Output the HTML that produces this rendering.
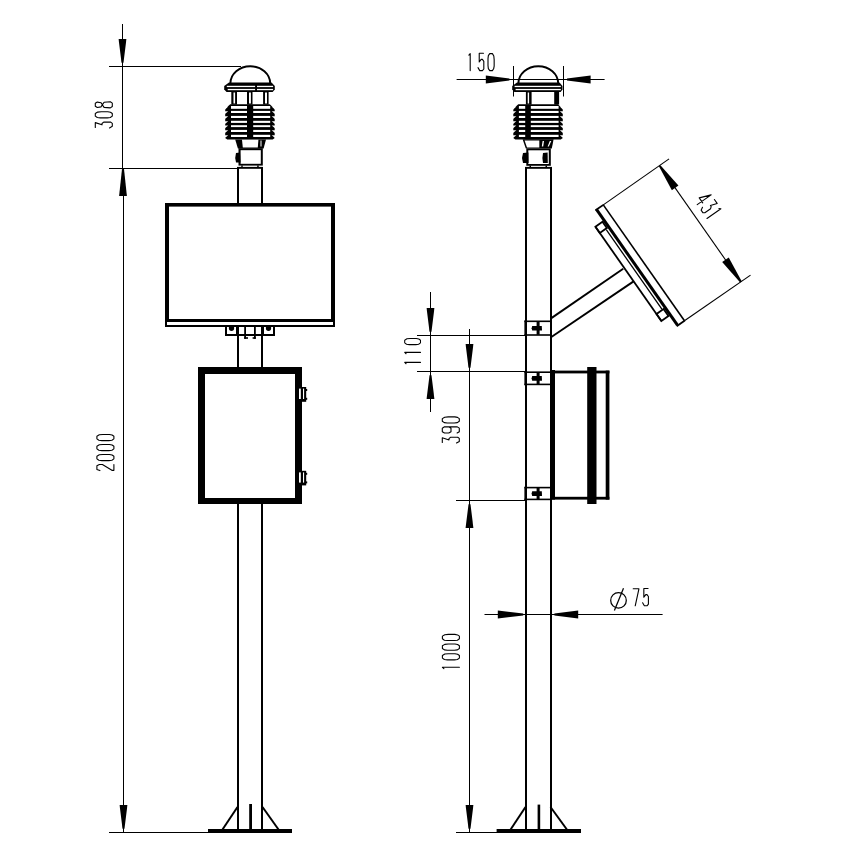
<!DOCTYPE html>
<html><head><meta charset="utf-8"><style>
html,body{margin:0;padding:0;background:#fff;}
body{width:854px;height:864px;overflow:hidden;font-family:"Liberation Sans",sans-serif;}
svg{display:block;}
</style></head><body>
<svg width="854" height="864" viewBox="0 0 854 864">
<rect x="0" y="0" width="854" height="864" fill="#fff"/>
<rect x="122.00" y="24.00" width="1.00" height="145.00" fill="#000"/>
<rect x="123.00" y="168.00" width="1.00" height="664.00" fill="#000"/>
<polygon points="121.50,62.70 123.50,62.70 126.40,39.10 118.60,39.10" fill="#000" />
<polygon points="124.00,169.00 122.00,169.00 119.10,195.90 126.90,195.90" fill="#000" />
<polygon points="122.50,828.70 124.50,828.70 127.40,805.10 119.60,805.10" fill="#000" />
<rect x="109.00" y="66.00" width="132.00" height="1.00" fill="#000"/>
<rect x="109.00" y="168.00" width="129.00" height="1.00" fill="#000"/>
<rect x="109.00" y="832.00" width="100.00" height="1.00" fill="#000"/>
<g transform="translate(112.3,127.9) rotate(-90)" stroke="#000" stroke-width="1.1" fill="none" stroke-linejoin="round" stroke-linecap="round"><path transform="translate(0.00,0)" d=" M0.44,-17.00 H5.28 L3.08,-10.30 H4.40 L5.81,-8.60 V-1.60 L4.58,0.00 H1.58 L0.00,-2.80"/><path transform="translate(10.00,0)" d=" M1.76,-17.00 H4.40 L5.81,-14.60 L6.16,-11.00 V-4.50 L5.63,-1.80 L4.40,0.00 H1.76 L0.35,-2.00 L0.00,-5.00 V-12.00 L0.35,-15.00 Z"/><path transform="translate(20.00,0)" d=" M3.08,-10.00 L1.06,-11.20 L0.35,-15.00 L1.58,-17.00 H4.58 L5.81,-15.00 L5.10,-11.20 L3.08,-10.00 L0.53,-8.20 L0.00,-2.00 L1.41,0.00 H4.75 L6.16,-2.00 L5.63,-8.20 Z"/></g>
<g transform="translate(113.9,470.6) rotate(-90)" stroke="#000" stroke-width="1.1" fill="none" stroke-linejoin="round" stroke-linecap="round"><path transform="translate(0.00,0)" d=" M0.00,-14.00 L1.06,-17.00 H4.84 L6.16,-14.50 V-11.50 L0.26,-2.00 V0.00 H6.16"/><path transform="translate(10.00,0)" d=" M1.76,-17.00 H4.40 L5.81,-14.60 L6.16,-11.00 V-4.50 L5.63,-1.80 L4.40,0.00 H1.76 L0.35,-2.00 L0.00,-5.00 V-12.00 L0.35,-15.00 Z"/><path transform="translate(20.00,0)" d=" M1.76,-17.00 H4.40 L5.81,-14.60 L6.16,-11.00 V-4.50 L5.63,-1.80 L4.40,0.00 H1.76 L0.35,-2.00 L0.00,-5.00 V-12.00 L0.35,-15.00 Z"/><path transform="translate(30.00,0)" d=" M1.76,-17.00 H4.40 L5.81,-14.60 L6.16,-11.00 V-4.50 L5.63,-1.80 L4.40,0.00 H1.76 L0.35,-2.00 L0.00,-5.00 V-12.00 L0.35,-15.00 Z"/></g>
<path d="M230.4,83.5 A19.9,17.25 0 0 1 270.2,83.5" stroke="#000" stroke-width="1.9" fill="none" stroke-linejoin="round" stroke-linecap="round" />
<polygon points="229.00,82.60 271.50,82.60 274.80,86.00 274.80,89.60 272.60,92.00 226.60,92.00 224.20,89.60 224.20,86.00" fill="#000" />
<rect x="226.80" y="85.80" width="28.30" height="1.30" fill="#fff"/>
<rect x="257.00" y="85.80" width="16.10" height="1.30" fill="#fff"/>
<rect x="227.70" y="88.90" width="27.40" height="1.30" fill="#fff"/>
<rect x="257.00" y="88.90" width="16.10" height="1.30" fill="#fff"/>
<rect x="231.30" y="91.60" width="5.70" height="13.00" fill="#000"/>
<rect x="233.50" y="92.50" width="1.60" height="11.00" fill="#fff"/>
<rect x="247.00" y="91.60" width="5.50" height="13.00" fill="#000"/>
<rect x="249.00" y="92.50" width="1.90" height="11.00" fill="#fff"/>
<rect x="263.10" y="91.60" width="5.50" height="13.00" fill="#000"/>
<rect x="265.00" y="92.50" width="2.00" height="11.00" fill="#fff"/>
<polygon points="230.20,104.20 269.70,104.20 274.70,108.70 274.70,137.90 272.70,139.40 227.20,139.40 225.20,137.90 225.20,108.70" fill="#000" />
<rect x="231.00" y="106.00" width="16.00" height="2.80" fill="#fff"/>
<rect x="253.20" y="106.00" width="17.00" height="2.80" fill="#fff"/>
<polygon points="228.20,106.40 224.60,106.40 224.60,110.10" fill="#fff" />
<polygon points="271.70,106.40 275.30,106.40 275.30,110.10" fill="#fff" />
<rect x="231.00" y="110.90" width="16.00" height="2.10" fill="#fff"/>
<rect x="253.20" y="110.90" width="17.00" height="2.10" fill="#fff"/>
<polygon points="228.20,111.30 224.60,111.30 224.60,114.30" fill="#fff" />
<polygon points="271.70,111.30 275.30,111.30 275.30,114.30" fill="#fff" />
<rect x="231.00" y="115.90" width="16.00" height="2.10" fill="#fff"/>
<rect x="253.20" y="115.90" width="17.00" height="2.10" fill="#fff"/>
<polygon points="228.20,116.30 224.60,116.30 224.60,119.30" fill="#fff" />
<polygon points="271.70,116.30 275.30,116.30 275.30,119.30" fill="#fff" />
<rect x="231.00" y="120.80" width="16.00" height="2.10" fill="#fff"/>
<rect x="253.20" y="120.80" width="17.00" height="2.10" fill="#fff"/>
<polygon points="228.20,121.20 224.60,121.20 224.60,124.20" fill="#fff" />
<polygon points="271.70,121.20 275.30,121.20 275.30,124.20" fill="#fff" />
<rect x="231.00" y="125.20" width="16.00" height="1.90" fill="#fff"/>
<rect x="253.20" y="125.20" width="17.00" height="1.90" fill="#fff"/>
<polygon points="228.20,125.60 224.60,125.60 224.60,128.40" fill="#fff" />
<polygon points="271.70,125.60 275.30,125.60 275.30,128.40" fill="#fff" />
<rect x="231.00" y="129.90" width="16.00" height="2.10" fill="#fff"/>
<rect x="253.20" y="129.90" width="17.00" height="2.10" fill="#fff"/>
<polygon points="228.20,130.30 224.60,130.30 224.60,133.30" fill="#fff" />
<polygon points="271.70,130.30 275.30,130.30 275.30,133.30" fill="#fff" />
<rect x="231.00" y="134.80" width="16.00" height="2.20" fill="#fff"/>
<rect x="253.20" y="134.80" width="17.00" height="2.20" fill="#fff"/>
<polygon points="228.20,135.20 224.60,135.20 224.60,138.30" fill="#fff" />
<polygon points="271.70,135.20 275.30,135.20 275.30,138.30" fill="#fff" />
<polygon points="235.20,139.40 266.00,139.40 263.60,148.60 237.90,148.60" fill="#000" />
<polygon points="242.00,139.80 258.40,139.80 257.80,147.40 242.80,147.40" fill="#fff" />
<rect x="260.50" y="140.50" width="1.00" height="6.00" fill="#fff"/>
<rect x="238.50" y="148.20" width="24.30" height="17.40" fill="#000"/>
<rect x="240.60" y="150.20" width="20.20" height="13.60" fill="#fff"/>
<polygon points="236.00,153.00 240.00,152.50 240.50,162.50 236.00,162.50 235.20,158.00" fill="#000" />
<rect x="241.30" y="165.40" width="1.40" height="1.60" fill="#000"/>
<rect x="257.20" y="165.40" width="1.50" height="1.60" fill="#000"/>
<rect x="237.00" y="166.90" width="26.00" height="1.90" fill="#000"/>
<rect x="237.00" y="168.00" width="2.00" height="35.00" fill="#000"/>
<rect x="261.00" y="168.00" width="2.00" height="35.00" fill="#000"/>
<rect x="237.00" y="326.00" width="2.00" height="41.00" fill="#000"/>
<rect x="261.00" y="326.00" width="2.00" height="41.00" fill="#000"/>
<rect x="237.00" y="504.00" width="2.00" height="325.00" fill="#000"/>
<rect x="261.00" y="504.00" width="2.00" height="325.00" fill="#000"/>
<rect x="165.00" y="203.00" width="170.00" height="3.60" fill="#000"/>
<rect x="165.00" y="203.00" width="4.00" height="119.00" fill="#000"/>
<rect x="331.00" y="203.00" width="4.00" height="119.00" fill="#000"/>
<rect x="165.00" y="319.00" width="170.00" height="3.00" fill="#000"/>
<rect x="165.00" y="325.00" width="170.00" height="2.00" fill="#000"/>
<rect x="165.00" y="322.00" width="2.00" height="5.00" fill="#000"/>
<rect x="333.00" y="322.00" width="2.00" height="5.00" fill="#000"/>
<rect x="225.00" y="327.00" width="2.00" height="9.00" fill="#000"/>
<rect x="273.00" y="327.00" width="2.00" height="9.00" fill="#000"/>
<rect x="225.00" y="334.00" width="50.00" height="2.00" fill="#000"/>
<rect x="236.00" y="327.00" width="2.00" height="9.00" fill="#000"/>
<rect x="262.00" y="327.00" width="2.00" height="9.00" fill="#000"/>
<rect x="244.20" y="327.00" width="1.80" height="11.80" fill="#000"/>
<rect x="244.20" y="337.20" width="3.80" height="1.60" fill="#000"/>
<rect x="254.00" y="327.00" width="1.80" height="11.80" fill="#000"/>
<rect x="252.60" y="337.20" width="3.20" height="1.60" fill="#000"/>
<path d="M228.9,327 H234.1 V328.6 Q234.1,331 231.5,331 Q228.9,331 228.9,328.6 Z" fill="#000"/>
<path d="M265.9,327 H271.1 V328.6 Q271.1,331 268.5,331 Q265.9,331 265.9,328.6 Z" fill="#000"/>
<rect x="198.00" y="367.00" width="104.00" height="137.00" fill="#000"/>
<rect x="205.00" y="374.00" width="90.00" height="124.00" fill="#fff"/>
<rect x="301.00" y="387.00" width="5.20" height="14.80" fill="#000"/>
<rect x="306.00" y="389.00" width="1.20" height="2.00" fill="#000"/>
<rect x="306.00" y="397.80" width="1.20" height="2.00" fill="#000"/>
<rect x="299.00" y="388.60" width="1.80" height="10.40" fill="#fff"/>
<rect x="303.00" y="388.60" width="1.10" height="10.40" fill="#fff"/>
<rect x="301.00" y="470.80" width="5.20" height="14.60" fill="#000"/>
<rect x="306.00" y="472.80" width="1.20" height="2.00" fill="#000"/>
<rect x="306.00" y="481.40" width="1.20" height="2.00" fill="#000"/>
<rect x="299.00" y="472.40" width="1.80" height="10.20" fill="#fff"/>
<rect x="303.00" y="472.40" width="1.10" height="10.20" fill="#fff"/>
<rect x="208.00" y="829.00" width="84.00" height="4.00" fill="#000"/>
<rect x="249.20" y="804.00" width="2.80" height="25.00" fill="#000"/>
<line x1="237.50" y1="807.00" x2="222.50" y2="829.50" stroke="#000" stroke-width="2.0" stroke-linecap="butt"/>
<line x1="262.50" y1="807.00" x2="278.50" y2="829.50" stroke="#000" stroke-width="2.0" stroke-linecap="butt"/>
<rect x="456.60" y="79.00" width="148.00" height="1.00" fill="#000"/>
<rect x="513.00" y="66.00" width="1.00" height="30.50" fill="#000"/>
<rect x="563.00" y="66.00" width="1.00" height="30.50" fill="#000"/>
<polygon points="509.40,80.50 509.40,78.50 485.80,75.60 485.80,83.40" fill="#000" />
<polygon points="567.00,78.50 567.00,80.50 590.60,83.40 590.60,75.60" fill="#000" />
<g transform="translate(468,70.6)" stroke="#000" stroke-width="1.1" fill="none" stroke-linejoin="round" stroke-linecap="round"><path transform="translate(0.00,0)" d=" M0.88,-15.50 L2.20,-17.00 V0.00"/><path transform="translate(10.00,0)" d=" M5.46,-17.30 H1.23 V-8.60 L3.17,-11.20 H4.40 L5.81,-9.30 V-1.60 L4.40,0.00 H1.76 L0.00,-3.00"/><path transform="translate(20.00,0)" d=" M1.76,-17.00 H4.40 L5.81,-14.60 L6.16,-11.00 V-4.50 L5.63,-1.80 L4.40,0.00 H1.76 L0.35,-2.00 L0.00,-5.00 V-12.00 L0.35,-15.00 Z"/></g>
<path d="M518.4,83.5 A19.9,17.25 0 0 1 558.2,83.5" stroke="#000" stroke-width="1.9" fill="none" stroke-linejoin="round" stroke-linecap="round" />
<polygon points="517.00,82.60 559.50,82.60 562.50,86.00 562.50,89.60 560.60,92.00 514.40,92.00 512.20,89.60 512.20,86.00" fill="#000" />
<rect x="514.60" y="85.80" width="46.20" height="1.30" fill="#fff"/>
<rect x="515.60" y="88.90" width="45.20" height="1.30" fill="#fff"/>
<rect x="525.90" y="91.60" width="5.70" height="13.00" fill="#000"/>
<rect x="527.70" y="92.50" width="1.40" height="11.00" fill="#fff"/>
<rect x="554.20" y="91.60" width="4.90" height="13.00" fill="#000"/>
<polygon points="518.30,104.20 557.80,104.20 562.80,108.70 562.80,137.90 560.80,139.40 515.30,139.40 513.30,137.90 513.30,108.70" fill="#000" />
<rect x="518.90" y="106.00" width="6.30" height="2.80" fill="#fff"/>
<rect x="530.80" y="106.00" width="27.80" height="2.80" fill="#fff"/>
<polygon points="516.30,106.40 512.70,106.40 512.70,110.10" fill="#fff" />
<polygon points="559.80,106.40 563.40,106.40 563.40,110.10" fill="#fff" />
<rect x="518.90" y="110.90" width="6.30" height="2.10" fill="#fff"/>
<rect x="530.80" y="110.90" width="27.80" height="2.10" fill="#fff"/>
<polygon points="516.30,111.30 512.70,111.30 512.70,114.30" fill="#fff" />
<polygon points="559.80,111.30 563.40,111.30 563.40,114.30" fill="#fff" />
<rect x="518.90" y="115.90" width="6.30" height="2.10" fill="#fff"/>
<rect x="530.80" y="115.90" width="27.80" height="2.10" fill="#fff"/>
<polygon points="516.30,116.30 512.70,116.30 512.70,119.30" fill="#fff" />
<polygon points="559.80,116.30 563.40,116.30 563.40,119.30" fill="#fff" />
<rect x="518.90" y="120.80" width="6.30" height="2.10" fill="#fff"/>
<rect x="530.80" y="120.80" width="27.80" height="2.10" fill="#fff"/>
<polygon points="516.30,121.20 512.70,121.20 512.70,124.20" fill="#fff" />
<polygon points="559.80,121.20 563.40,121.20 563.40,124.20" fill="#fff" />
<rect x="518.90" y="125.20" width="6.30" height="1.90" fill="#fff"/>
<rect x="530.80" y="125.20" width="27.80" height="1.90" fill="#fff"/>
<polygon points="516.30,125.60 512.70,125.60 512.70,128.40" fill="#fff" />
<polygon points="559.80,125.60 563.40,125.60 563.40,128.40" fill="#fff" />
<rect x="518.90" y="129.90" width="6.30" height="2.10" fill="#fff"/>
<rect x="530.80" y="129.90" width="27.80" height="2.10" fill="#fff"/>
<polygon points="516.30,130.30 512.70,130.30 512.70,133.30" fill="#fff" />
<polygon points="559.80,130.30 563.40,130.30 563.40,133.30" fill="#fff" />
<rect x="518.90" y="134.80" width="6.30" height="2.20" fill="#fff"/>
<rect x="530.80" y="134.80" width="27.80" height="2.20" fill="#fff"/>
<polygon points="516.30,135.20 512.70,135.20 512.70,138.30" fill="#fff" />
<polygon points="559.80,135.20 563.40,135.20 563.40,138.30" fill="#fff" />
<polygon points="522.60,139.20 553.60,139.20 551.80,148.60 525.80,148.60" fill="#000" />
<polygon points="524.60,140.60 539.30,140.60 539.30,147.40 527.00,147.40" fill="#fff" />
<polygon points="542.60,141.00 544.00,141.00 543.20,146.50 541.80,146.50" fill="#fff" />
<polygon points="549.80,141.00 551.30,141.00 548.80,146.50 547.60,146.50" fill="#fff" />
<rect x="526.30" y="148.40" width="24.50" height="17.40" fill="#000"/>
<rect x="528.30" y="150.30" width="20.50" height="13.70" fill="#fff"/>
<polygon points="523.00,153.00 528.40,152.60 528.60,163.00 523.00,163.00 522.00,158.00" fill="#000" />
<polygon points="543.00,153.00 547.60,152.60 547.80,163.00 543.00,163.00 542.40,158.00" fill="#000" />
<rect x="529.50" y="165.60" width="1.50" height="1.60" fill="#000"/>
<rect x="545.50" y="165.60" width="1.50" height="1.60" fill="#000"/>
<rect x="525.00" y="166.90" width="27.00" height="1.90" fill="#000"/>
<rect x="525.00" y="168.00" width="2.00" height="661.00" fill="#000"/>
<rect x="550.00" y="168.00" width="2.00" height="661.00" fill="#000"/>
<rect x="524.40" y="320.50" width="26.60" height="1.60" fill="#000"/>
<rect x="524.40" y="334.20" width="26.60" height="1.60" fill="#000"/>
<rect x="524.40" y="320.50" width="1.60" height="15.30" fill="#000"/>
<rect x="536.60" y="321.50" width="3.00" height="13.30" fill="#000"/>
<polygon points="532.20,325.95 541.80,325.95 542.00,330.55 532.20,330.55 531.60,328.15" fill="#000" />
<rect x="524.40" y="371.40" width="26.60" height="1.60" fill="#000"/>
<rect x="524.40" y="383.60" width="26.60" height="1.60" fill="#000"/>
<rect x="524.40" y="371.40" width="1.60" height="13.80" fill="#000"/>
<rect x="536.60" y="372.40" width="3.00" height="11.80" fill="#000"/>
<polygon points="532.20,376.10 541.80,376.10 542.00,380.70 532.20,380.70 531.60,378.30" fill="#000" />
<rect x="524.40" y="486.80" width="26.60" height="1.60" fill="#000"/>
<rect x="524.40" y="498.60" width="26.60" height="1.60" fill="#000"/>
<rect x="524.40" y="486.80" width="1.60" height="13.40" fill="#000"/>
<rect x="536.60" y="487.80" width="3.00" height="11.40" fill="#000"/>
<polygon points="532.20,491.30 541.80,491.30 542.00,495.90 532.20,495.90 531.60,493.50" fill="#000" />
<rect x="551.00" y="370.00" width="4.00" height="129.60" fill="#000"/>
<rect x="551.00" y="370.60" width="58.40" height="2.80" fill="#000"/>
<rect x="551.00" y="496.80" width="58.40" height="2.80" fill="#000"/>
<rect x="605.70" y="370.60" width="3.70" height="129.00" fill="#000"/>
<rect x="587.20" y="367.00" width="9.30" height="137.00" fill="#000"/>
<rect x="430.00" y="292.00" width="1.00" height="120.00" fill="#000"/>
<polygon points="429.50,331.70 431.50,331.70 434.40,308.10 426.60,308.10" fill="#000" />
<polygon points="431.50,375.30 429.50,375.30 426.60,398.90 434.40,398.90" fill="#000" />
<rect x="469.00" y="329.00" width="1.00" height="503.00" fill="#000"/>
<polygon points="468.50,367.70 470.50,367.70 473.40,344.10 465.60,344.10" fill="#000" />
<polygon points="470.50,504.30 468.50,504.30 465.60,527.90 473.40,527.90" fill="#000" />
<polygon points="468.50,828.70 470.50,828.70 473.40,805.10 465.60,805.10" fill="#000" />
<rect x="417.00" y="335.00" width="108.00" height="1.00" fill="#000"/>
<rect x="417.00" y="371.00" width="108.00" height="1.00" fill="#000"/>
<rect x="456.00" y="500.00" width="69.00" height="1.00" fill="#000"/>
<rect x="456.00" y="832.00" width="41.00" height="1.00" fill="#000"/>
<g transform="translate(420.5,364.6) rotate(-90) scale(1,0.93)" stroke="#000" stroke-width="1.1" fill="none" stroke-linejoin="round" stroke-linecap="round"><path transform="translate(0.00,0)" d=" M0.88,-15.50 L2.20,-17.00 V0.00"/><path transform="translate(10.00,0)" d=" M0.88,-15.50 L2.20,-17.00 V0.00"/><path transform="translate(20.00,0)" d=" M1.76,-17.00 H4.40 L5.81,-14.60 L6.16,-11.00 V-4.50 L5.63,-1.80 L4.40,0.00 H1.76 L0.35,-2.00 L0.00,-5.00 V-12.00 L0.35,-15.00 Z"/></g>
<g transform="translate(459.3,443) rotate(-90)" stroke="#000" stroke-width="1.1" fill="none" stroke-linejoin="round" stroke-linecap="round"><path transform="translate(0.00,0)" d=" M0.44,-17.00 H5.28 L3.08,-10.30 H4.40 L5.81,-8.60 V-1.60 L4.58,0.00 H1.58 L0.00,-2.80"/><path transform="translate(10.00,0)" d=" M6.16,-10.50 L4.84,-8.30 H1.32 L0.00,-10.50 V-14.80 L1.32,-17.00 H4.84 L6.16,-14.80 V-2.00 L4.84,0.00 H1.32 L0.00,-2.20"/><path transform="translate(20.00,0)" d=" M1.76,-17.00 H4.40 L5.81,-14.60 L6.16,-11.00 V-4.50 L5.63,-1.80 L4.40,0.00 H1.76 L0.35,-2.00 L0.00,-5.00 V-12.00 L0.35,-15.00 Z"/></g>
<g transform="translate(459.4,669.5) rotate(-90)" stroke="#000" stroke-width="1.1" fill="none" stroke-linejoin="round" stroke-linecap="round"><path transform="translate(0.00,0)" d=" M0.88,-15.50 L2.20,-17.00 V0.00"/><path transform="translate(9.65,0)" d=" M1.76,-17.00 H4.40 L5.81,-14.60 L6.16,-11.00 V-4.50 L5.63,-1.80 L4.40,0.00 H1.76 L0.35,-2.00 L0.00,-5.00 V-12.00 L0.35,-15.00 Z"/><path transform="translate(19.30,0)" d=" M1.76,-17.00 H4.40 L5.81,-14.60 L6.16,-11.00 V-4.50 L5.63,-1.80 L4.40,0.00 H1.76 L0.35,-2.00 L0.00,-5.00 V-12.00 L0.35,-15.00 Z"/><path transform="translate(28.95,0)" d=" M1.76,-17.00 H4.40 L5.81,-14.60 L6.16,-11.00 V-4.50 L5.63,-1.80 L4.40,0.00 H1.76 L0.35,-2.00 L0.00,-5.00 V-12.00 L0.35,-15.00 Z"/></g>
<rect x="484.50" y="614.00" width="178.10" height="1.00" fill="#000"/>
<polygon points="523.20,615.50 523.20,613.50 497.80,610.60 497.80,618.40" fill="#000" />
<polygon points="554.40,613.50 554.40,615.50 578.20,618.40 578.20,610.60" fill="#000" />
<ellipse cx="618.5" cy="600.4" rx="7.8" ry="7.8" stroke="#000" stroke-width="1.25" fill="none"/>
<line x1="614.40" y1="610.60" x2="623.50" y2="588.30" stroke="#000" stroke-width="1.25" stroke-linecap="butt"/>
<g transform="translate(633.2,605.8)" stroke="#000" stroke-width="1.1" fill="none" stroke-linejoin="round" stroke-linecap="round"><path transform="translate(0.00,0)" d=" M0.00,-17.00 H5.72 L2.02,0.00"/><path transform="translate(9.40,0)" d=" M5.46,-17.30 H1.23 V-8.60 L3.17,-11.20 H4.40 L5.81,-9.30 V-1.60 L4.40,0.00 H1.76 L0.00,-3.00"/></g>
<rect x="496.60" y="829.00" width="84.40" height="4.00" fill="#000"/>
<rect x="537.60" y="804.60" width="2.60" height="24.40" fill="#000"/>
<line x1="525.50" y1="807.00" x2="510.60" y2="829.50" stroke="#000" stroke-width="2.0" stroke-linecap="butt"/>
<line x1="550.50" y1="807.00" x2="566.90" y2="829.50" stroke="#000" stroke-width="2.0" stroke-linecap="butt"/>
<line x1="551.00" y1="318.40" x2="623.20" y2="268.80" stroke="#000" stroke-width="1.9" stroke-linecap="butt"/>
<line x1="551.00" y1="337.20" x2="633.60" y2="281.40" stroke="#000" stroke-width="1.9" stroke-linecap="butt"/>
<g transform="translate(603.3,204.9) rotate(55.0)"><line x1="0" y1="0" x2="141.5" y2="0" stroke="#000" stroke-width="1.6"/><line x1="-0.5" y1="8.2" x2="141.0" y2="8.2" stroke="#000" stroke-width="3"/><line x1="0" y1="-0.5" x2="0" y2="9.5" stroke="#000" stroke-width="1.8"/><line x1="141.5" y1="-0.5" x2="141.5" y2="9.5" stroke="#000" stroke-width="1.8"/><line x1="22" y1="11.8" x2="119" y2="11.8" stroke="#000" stroke-width="1.3"/><line x1="13.4" y1="19" x2="128.4" y2="19" stroke="#000" stroke-width="1.8"/><rect x="13.4" y="10.4" width="7.6" height="8.6" stroke="#000" stroke-width="1.8" fill="none"/><rect x="119.9" y="10.4" width="8.5" height="8.6" stroke="#000" stroke-width="1.8" fill="none"/><line x1="0" y1="0" x2="0" y2="-80.3" stroke="#000" stroke-width="1.1"/><line x1="141.5" y1="0" x2="142" y2="-80.3" stroke="#000" stroke-width="1.1"/><line x1="1" y1="-68.6" x2="141" y2="-68.6" stroke="#000" stroke-width="1.1"/><polygon points="0.3,-69.5 0.3,-67.69999999999999 27.3,-64.6 27.3,-72.6" fill="#000"/><polygon points="142,-69.5 142,-67.69999999999999 115,-64.6 115,-72.6" fill="#000"/></g>
<g transform="translate(694.7,201) rotate(55.0)" stroke="#000" stroke-width="1.1" fill="none" stroke-linejoin="round" stroke-linecap="round"><path transform="translate(0.00,0)" d=" M4.40,0.00 V-17.00 L0.00,-5.50 H6.16"/><path transform="translate(9.60,0)" d=" M0.44,-17.00 H5.28 L3.08,-10.30 H4.40 L5.81,-8.60 V-1.60 L4.58,0.00 H1.58 L0.00,-2.80"/><path transform="translate(19.20,0)" d=" M0.88,-15.50 L2.20,-17.00 V0.00"/></g>
</svg>
</body></html>
